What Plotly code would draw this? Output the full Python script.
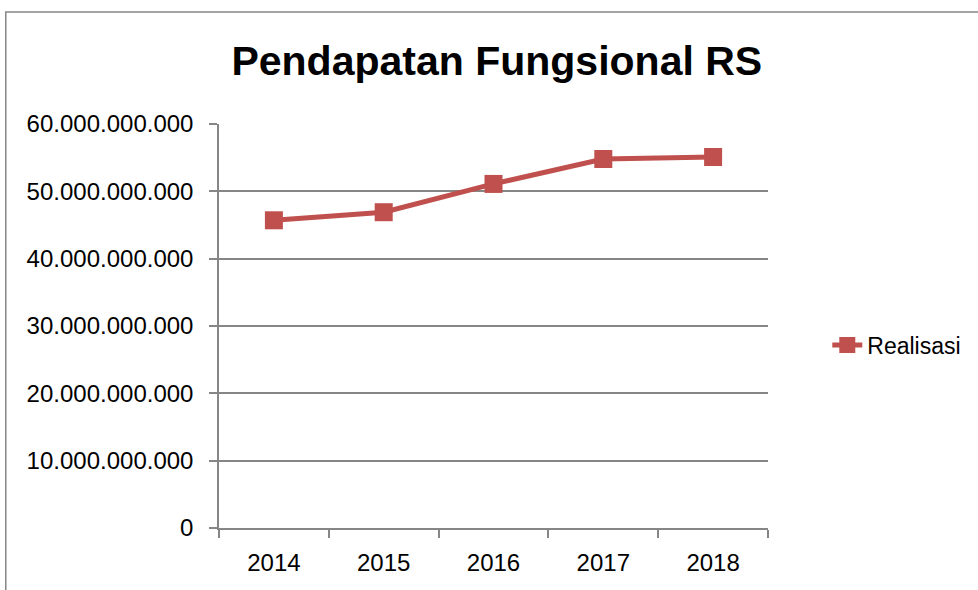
import plotly.graph_objects as go

tahun = ["2014", "2015", "2016", "2017", "2018"]
realisasi = [45.7e9, 46.9e9, 51.1e9, 54.8e9, 55.1e9]
y_ticks = [0, 10e9, 20e9, 30e9, 40e9, 50e9, 60e9]

merah = "#C0504D"
abu = "#868686"

fig = go.Figure()
fig.add_trace(go.Scatter(
    x=tahun, y=realisasi, name="Realisasi", mode="lines+markers",
    line=dict(color=merah, width=5),
    marker=dict(symbol="square", size=18, color=merah),
))

fig.update_layout(
    width=978, height=590,
    margin=dict(l=219, r=208, t=124, b=62),
    paper_bgcolor="white", plot_bgcolor="white",
    separators=",.",
    font=dict(family="Liberation Sans, Arial, sans-serif", size=24, color="#000000"),
    title=dict(
        text="Pendapatan Fungsional RS",
        font=dict(family="Liberation Sans, Arial, sans-serif", size=41,
                  weight="bold", color="#000000"),
        x=0.506, xref="paper", xanchor="center",
        y=0.897, yref="container", yanchor="middle",
    ),
    showlegend=True,
    legend=dict(x=1.108, y=0.453, xanchor="left", yanchor="middle",
                font=dict(size=23), bgcolor="rgba(0,0,0,0)"),
)

fig.update_yaxes(
    range=[0, 60e9], tickvals=y_ticks, tickformat=",.0f",
    showgrid=True, gridcolor=abu, gridwidth=1.5,
    showline=True, linecolor=abu, linewidth=1.5,
    ticks="outside", ticklen=8, tickcolor=abu, tickwidth=1.5,
    ticklabelstandoff=11, zeroline=False,
)
fig.update_xaxes(
    type="category", range=[-0.5, 4.5], tickson="boundaries",
    showgrid=False, showline=True, linecolor=abu, linewidth=1.5,
    ticks="outside", ticklen=8, tickcolor=abu, tickwidth=1.5,
    ticklabelstandoff=12,
)

# bingkai grafik (garis luar abu-abu)
fig.add_shape(type="rect", xref="paper", yref="paper",
              x0=(5 - 219) / 551, x1=2, y0=-1, y1=(528 - 12) / 404,
              line=dict(color=abu, width=1.5), fillcolor="rgba(0,0,0,0)")

# halaman tanpa margin bawaan browser
fig.write_html("out.html", config={"displayModeBar": False},
               post_script="document.body.style.margin='0';")
